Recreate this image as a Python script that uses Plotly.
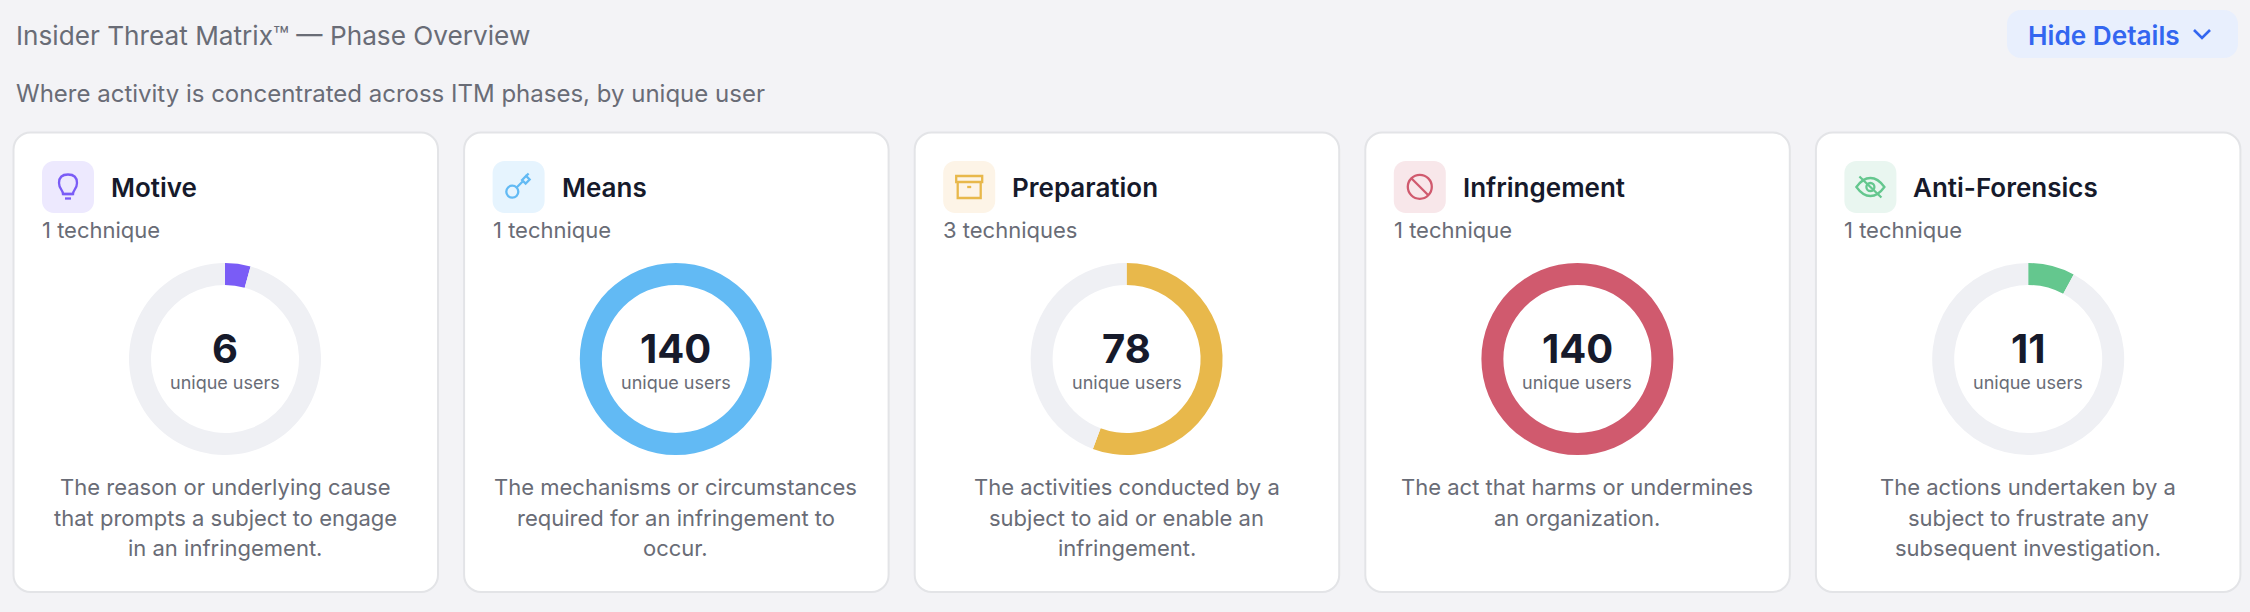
import plotly.graph_objects as go

# ---- data ----
phases = ["Motive", "Means", "Preparation", "Infringement", "Anti-Forensics"]
unique_users = [6, 140, 78, 140, 11]
total_users = 140
technique_labels = ["1 technique", "1 technique", "3 techniques", "1 technique", "1 technique"]
descriptions = [
    ["The reason or underlying cause", "that prompts a subject to engage", "in an infringement."],
    ["The mechanisms or circumstances", "required for an infringement to", "occur."],
    ["The activities conducted by a", "subject to aid or enable an", "infringement."],
    ["The act that harms or undermines", "an organization."],
    ["The actions undertaken by a", "subject to frustrate any", "subsequent investigation."],
]
phase_colors = ["#7a5cf6", "#62baf4", "#e8b84b", "#d05a6e", "#64c78e"]
tile_colors = ["#ede9fe", "#e6f4fe", "#fdf4e7", "#f8e7ea", "#e9f6f0"]
title_text = "Insider Threat Matrix™ — Phase Overview"
subtitle_text = "Where activity is concentrated across ITM phases, by unique user"
button_text = "Hide Details"

# ---- style ----
W, H = 2250, 612
FONT = "Inter"
BG = "#f3f3f6"
TRACK = "#eff0f4"
DARK = "#161a2b"
GREY = "#696c76"
BLUE = "#3366f0"
STEP = 450.8
TILE_STEP = 450.6
CARD_X0, CARD_W, CARD_Y0, CARD_Y1 = 13.5, 424.5, 132.5, 592
CX0, CY, R_OUT, R_IN = 225.0, 359.0, 96.0, 74.0
K = 0.5523


def rrect(x0, y0, x1, y1, r):
    c = r * (1 - K)
    return (f"M{x0+r},{y0} L{x1-r},{y0} C{x1-c},{y0} {x1},{y0+c} {x1},{y0+r} "
            f"L{x1},{y1-r} C{x1},{y1-c} {x1-c},{y1} {x1-r},{y1} "
            f"L{x0+r},{y1} C{x0+c},{y1} {x0},{y1-c} {x0},{y1-r} "
            f"L{x0},{y0+r} C{x0},{y0+c} {x0+c},{y0} {x0+r},{y0} Z")


def circ(cx, cy, r):
    k = r * K
    return (f"M{cx+r},{cy} C{cx+r},{cy+k} {cx+k},{cy+r} {cx},{cy+r} "
            f"C{cx-k},{cy+r} {cx-r},{cy+k} {cx-r},{cy} "
            f"C{cx-r},{cy-k} {cx-k},{cy-r} {cx},{cy-r} "
            f"C{cx+k},{cy-r} {cx+r},{cy-k} {cx+r},{cy} Z")


def icon_paths(i, x):
    """Icon strokes relative to the tile's left edge x; tile is 52 wide, centred on y=187."""
    m = x + 26
    if i == 0:  # light bulb
        return [
            (f"M{m-5},{194} C{m-5},{190} {m-9},{189} {m-9},{183} "
             f"C{m-9},{177} {m-5},{174.5} {m},{174.5} C{m+5},{174.5} {m+9},{177} {m+9},{183} "
             f"C{m+9},{189} {m+5},{190} {m+5},{194} Z"),
            f"M{m-5},{194} L{m+5},{194}",
            f"M{m-3},{198.5} L{m+3},{198.5}",
        ]
    if i == 1:  # key
        return [
            circ(m - 6.3, 191.7, 6),
            f"M{m-2},{187.5} L{m+4},{181.5}",
            f"M{m+3.5},{180} L{m+7.5},{176} L{m+11},{179.5} L{m+7},{183.5} L{m+3.5},{180} Z",
            f"M{m+7.5},{176} L{m+10},{173.5}",
        ]
    if i == 2:  # archive box
        return [
            f"M{m-13},{176} L{m+13},{176} L{m+13},{182} L{m-13},{182} Z",
            f"M{m-11.5},{182} L{m-11.5},{198} L{m+11.5},{198} L{m+11.5},{182}",
            f"M{m-2},{187} L{m+2},{187}",
        ]
    if i == 3:  # ban
        return [
            circ(m, 186.8, 12),
            f"M{m-8.5},{178.3} L{m+8.5},{195.3}",
        ]
    # eye with slash
    return [
        (f"M{m-14},{187} C{m-9},{180} {m-4},{178} {m},{178} "
         f"C{m+4},{178} {m+9},{180} {m+14},{187} "
         f"C{m+9},{194} {m+4},{196} {m},{196} C{m-4},{196} {m-9},{194} {m-14},{187} Z"),
        circ(m, 187, 4),
        f"M{m-11},{176.5} L{m+11},{197.5}",
    ]


fig = go.Figure()
# invisible trace so that the pixel-scaled axes exist
fig.add_trace(go.Scatter(x=[], y=[], hoverinfo="skip", showlegend=False))

shapes, annotations = [], []


def label(x, y, text, size, color, anchor="left", weight=400):
    annotations.append(dict(
        x=x, y=y, xref="x", yref="y", text=text, showarrow=False,
        xanchor=anchor, yanchor="middle", align=anchor,
        font=dict(family=FONT, size=size, color=color, weight=weight),
        borderpad=0, borderwidth=0,
    ))


label(16, 35, title_text, 26.2, GREY)
label(16, 93, subtitle_text, 24, GREY)

shapes.append(dict(type="path", path=rrect(2007, 10, 2238, 58, 14), fillcolor="#e8effd",
                   line=dict(width=0), layer="below"))
label(2028, 35, button_text, 26.2, BLUE, weight=600)
shapes.append(dict(type="path", path="M2194,30 L2202,38 L2210,30", line=dict(color=BLUE, width=2.6), layer="above"))

for i, phase in enumerate(phases):
    cx = CX0 + i * STEP
    x0 = CARD_X0 + i * TILE_STEP
    shapes.append(dict(type="path", path=rrect(x0, CARD_Y0, x0 + CARD_W, CARD_Y1, 17),
                       fillcolor="#ffffff", line=dict(color="#e3e4e7", width=2), layer="below"))
    tile_x = 42 + i * TILE_STEP
    shapes.append(dict(type="path", path=rrect(tile_x, 161, tile_x + 52, 213, 12),
                       fillcolor=tile_colors[i], line=dict(width=0), layer="below"))
    for p in icon_paths(i, tile_x):
        shapes.append(dict(type="path", path=p, line=dict(color=phase_colors[i], width=2.3), layer="above"))

    fig.add_trace(go.Pie(
        values=[unique_users[i], total_users - unique_users[i]],
        labels=[phase, "Other"],
        marker=dict(colors=[phase_colors[i], TRACK], line=dict(width=0)),
        hole=R_IN / R_OUT, sort=False, direction="clockwise", rotation=0,
        textinfo="none", hoverinfo="skip", showlegend=False,
        domain=dict(x=[(cx - R_OUT) / W, (cx + R_OUT) / W],
                    y=[1 - (CY + R_OUT) / H, 1 - (CY - R_OUT) / H]),
    ))

    label(tile_x + 69, 187.5, phase, 26, DARK, weight=600)
    label(tile_x, 230, technique_labels[i], 22, GREY)
    label(cx, 348, str(unique_users[i]), 40, DARK, "center", weight=700)
    label(cx, 382, "unique users", 18, GREY, "center")
    for j, line in enumerate(descriptions[i]):
        label(cx, 487 + j * 30.7, line, 22, GREY, "center")

fig.update_layout(
    width=W, height=H, autosize=False,
    margin=dict(l=0, r=0, t=0, b=0, pad=0),
    paper_bgcolor=BG, plot_bgcolor=BG,
    showlegend=False,
    xaxis=dict(range=[0, W], visible=False, fixedrange=True),
    yaxis=dict(range=[H, 0], visible=False, fixedrange=True),
    shapes=shapes, annotations=annotations,
)
fig.write_html("out.html", config={"displayModeBar": False},
               post_script="document.body.style.margin='0';document.body.style.overflow='hidden';")
